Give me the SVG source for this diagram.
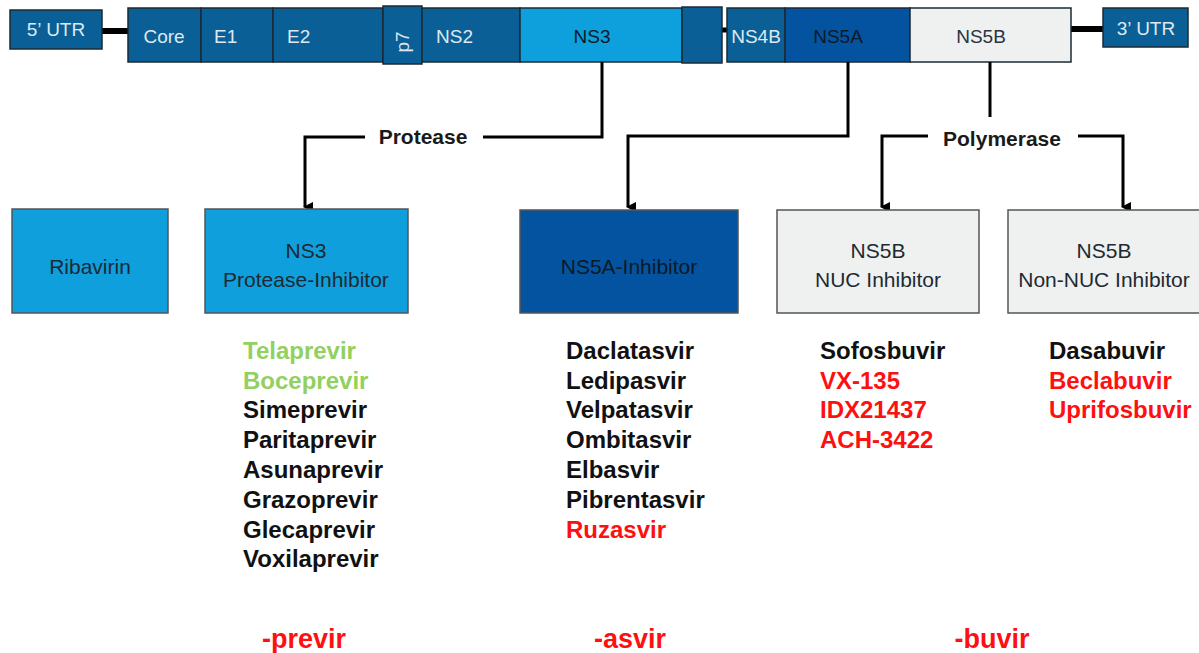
<svg xmlns="http://www.w3.org/2000/svg" width="1199" height="653" viewBox="0 0 1199 653">
<style>
.seg{stroke:#1b2a33;stroke-width:1.5}
.dk{fill:#0a6096}
.lt{font-family:"Liberation Sans",Arial,sans-serif;font-size:19px;fill:#dde9f1}
.dt{font-family:"Liberation Sans",Arial,sans-serif;font-size:19px;fill:#0c1a26}
.box{stroke:#555;stroke-width:1.5}
.bt{font-family:"Liberation Sans",Arial,sans-serif;font-size:21px;fill:#1d2a33;text-anchor:middle}
.cn{fill:none;stroke:#000;stroke-width:3}
.lab{font-family:"Liberation Sans",Arial,sans-serif;font-size:21px;font-weight:bold;fill:#1a1a1a;text-anchor:middle}
.drug{font-family:"Liberation Sans",Arial,sans-serif;font-size:24px;font-weight:bold;fill:#111}
.g{fill:#92d060}
.r{fill:#ff1010}
.suf{font-family:"Liberation Sans",Arial,sans-serif;font-size:27px;font-weight:bold;fill:#ff1010;text-anchor:middle}
</style>
<defs>
<marker id="ah" markerWidth="10" markerHeight="10" refX="5" refY="8" orient="auto" markerUnits="userSpaceOnUse" viewBox="0 0 10 10">
<path d="M0,0 L10,0 L5,10 Z" fill="#000"/>
</marker>
</defs>
<rect width="1199" height="653" fill="#fff"/>

<g id="genome-links">
<line x1="102" y1="31" x2="128" y2="31" stroke="#000" stroke-width="6"/>
<line x1="722" y1="30" x2="727" y2="30" stroke="#000" stroke-width="5"/>
<line x1="1071" y1="29" x2="1103" y2="29" stroke="#000" stroke-width="6"/>
</g>

<g id="utr5"><rect x="10" y="10" width="92" height="39" class="seg dk"/><text x="56" y="36" class="lt" text-anchor="middle">5’ UTR</text></g>
<g id="core"><rect x="128" y="8" width="73" height="54" class="seg dk"/><text x="164" y="43" class="lt" text-anchor="middle">Core</text></g>
<g id="e1"><rect x="201" y="8" width="72" height="54" class="seg dk"/><text x="214" y="43" class="lt">E1</text></g>
<g id="e2"><rect x="273" y="8" width="110" height="54" class="seg dk"/><text x="287" y="43" class="lt">E2</text></g>
<g id="p7"><rect x="383" y="6" width="39" height="58" class="seg dk"/><text x="0" y="0" class="lt" font-size="17" text-anchor="middle" transform="translate(409,42) rotate(-90)">p7</text></g>
<g id="ns2"><rect x="422" y="8" width="98" height="54" class="seg dk"/><text x="436" y="43" class="lt">NS2</text></g>
<g id="ns3"><rect x="520" y="8" width="162" height="54" class="seg" fill="#0ea0dc"/><text x="592" y="43" class="dt" text-anchor="middle">NS3</text></g>
<g id="ns4a"><rect x="682" y="7" width="40" height="56" class="seg dk"/></g>
<g id="ns4b"><rect x="727" y="8" width="58" height="54" class="seg dk"/><text x="756" y="43" class="lt" text-anchor="middle">NS4B</text></g>
<g id="ns5a"><rect x="785" y="8" width="125" height="54" class="seg" fill="#0453a0"/><text x="838" y="43" class="dt" text-anchor="middle">NS5A</text></g>
<g id="ns5b"><rect x="910" y="8" width="161" height="54" class="seg" fill="#eff0f0" stroke="#444"/><text x="981" y="43" class="dt" text-anchor="middle" style="fill:#2b3440">NS5B</text></g>
<g id="utr3"><rect x="1103" y="8" width="85" height="39" class="seg dk"/><text x="1146" y="35" class="lt" text-anchor="middle">3’ UTR</text></g>

<g id="connectors">
<polyline class="cn" points="602,62 602,137 483,137"/>
<polyline class="cn" points="365,137 305,137 305,207" marker-end="url(#ah)"/>
<polyline class="cn" points="848,62 848,136 628,136 628,207" marker-end="url(#ah)"/>
<line class="cn" x1="990" y1="62" x2="990" y2="117"/>
<polyline class="cn" points="928,136 882,136 882,207" marker-end="url(#ah)"/>
<polyline class="cn" points="1078,136 1123,136 1123,207" marker-end="url(#ah)"/>
<text x="423" y="144" class="lab">Protease</text>
<text x="1002" y="146" class="lab">Polymerase</text>
</g>

<g id="ribavirin"><rect x="12" y="209" width="156" height="104" class="box" fill="#0e9fdc" stroke="#333"/><text x="90" y="274" class="bt" font-size="22">Ribavirin</text></g>
<g id="ns3-pi"><rect x="205" y="209" width="203" height="104" class="box" fill="#0e9fdc" stroke="#333"/><text x="306" y="258" class="bt">NS3</text><text x="306" y="287" class="bt">Protease-Inhibitor</text></g>
<g id="ns5a-i"><rect x="520" y="210" width="218" height="103" class="box" fill="#0453a0" stroke="#333"/><text x="629" y="274" class="bt" font-size="23" style="fill:#0c1a26">NS5A-Inhibitor</text></g>
<g id="ns5b-nuc"><rect x="777" y="210" width="202" height="103" class="box" fill="#eff0f0"/><text x="878" y="258" class="bt">NS5B</text><text x="878" y="287" class="bt">NUC Inhibitor</text></g>
<g id="ns5b-nonnuc"><rect x="1008" y="210" width="200" height="103" class="box" fill="#eff0f0"/><text x="1104" y="258" class="bt">NS5B</text><text x="1104" y="287" class="bt">Non-NUC Inhibitor</text></g>

<g id="previr-list">
<text x="243" y="359" class="drug g">Telaprevir</text>
<text x="243" y="389" class="drug g">Boceprevir</text>
<text x="243" y="418" class="drug">Simeprevir</text>
<text x="243" y="448" class="drug">Paritaprevir</text>
<text x="243" y="478" class="drug">Asunaprevir</text>
<text x="243" y="508" class="drug">Grazoprevir</text>
<text x="243" y="538" class="drug">Glecaprevir</text>
<text x="243" y="567" class="drug">Voxilaprevir</text>
</g>
<g id="asvir-list">
<text x="566" y="359" class="drug">Daclatasvir</text>
<text x="566" y="389" class="drug">Ledipasvir</text>
<text x="566" y="418" class="drug">Velpatasvir</text>
<text x="566" y="448" class="drug">Ombitasvir</text>
<text x="566" y="478" class="drug">Elbasvir</text>
<text x="566" y="508" class="drug">Pibrentasvir</text>
<text x="566" y="538" class="drug r">Ruzasvir</text>
</g>
<g id="nuc-list">
<text x="820" y="359" class="drug">Sofosbuvir</text>
<text x="820" y="389" class="drug r">VX-135</text>
<text x="820" y="418" class="drug r">IDX21437</text>
<text x="820" y="448" class="drug r">ACH-3422</text>
</g>
<g id="nonnuc-list">
<text x="1049" y="359" class="drug">Dasabuvir</text>
<text x="1049" y="389" class="drug r">Beclabuvir</text>
<text x="1049" y="418" class="drug r">Uprifosbuvir</text>
</g>
<g id="suffixes">
<text x="304" y="648" class="suf">-previr</text>
<text x="630" y="648" class="suf">-asvir</text>
<text x="992" y="648" class="suf">-buvir</text>
</g>
</svg>
